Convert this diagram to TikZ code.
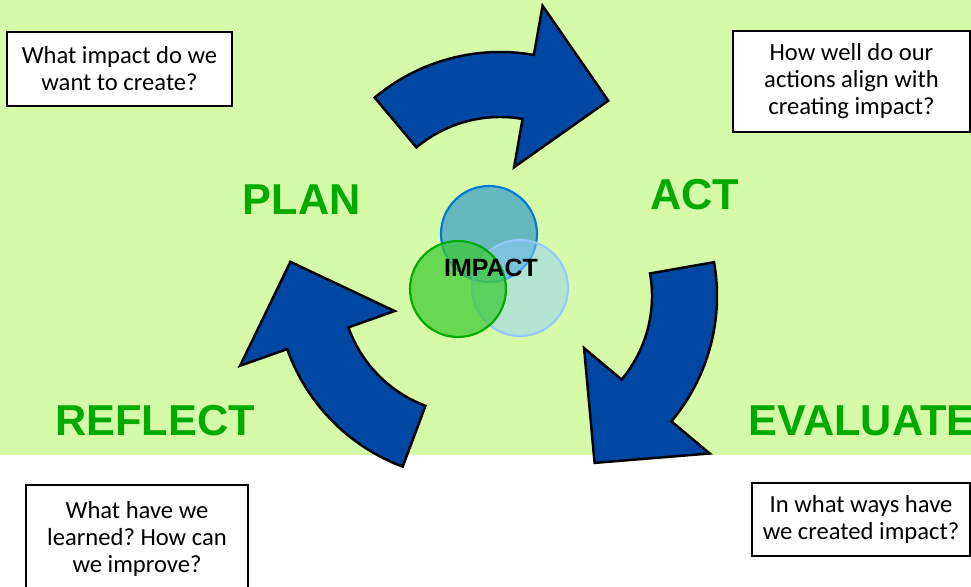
\documentclass[tikz,border=0pt]{standalone}
\usepackage{fontspec}
\setmainfont{Carlito}
\newfontfamily\labelfont{Liberation Sans}
\frenchspacing
\definecolor{meadow}{RGB}{213,251,169}
\definecolor{loopblue}{RGB}{0,71,163}
\definecolor{stagegreen}{RGB}{0,170,0}
\definecolor{tealfill}{RGB}{54,157,199}
\definecolor{tealline}{RGB}{0,120,215}
\definecolor{leaffill}{RGB}{59,200,49}
\definecolor{mistfill}{RGB}{147,206,252}
\definecolor{mistline}{RGB}{150,200,255}
\begin{document}
\begin{tikzpicture}[x=0.2mm,y=0.2mm,
  question/.style={draw=black,line width=1.2pt,fill=white,align=center,inner sep=0pt,
    font=\fontsize{14}{15.4}\selectfont},
  stage/.style={text=stagegreen,font=\labelfont\bfseries\fontsize{24.6}{28}\selectfont},
  turn/.style={fill=loopblue,draw=black,line width=1.4pt,line join=miter}]
\useasboundingbox (0,0) rectangle (971,586);
\fill[white] (0,0) rectangle (971,586);
\fill[meadow] (0,131) rectangle (971,586);
\node[question,minimum width=45mm,minimum height=14.8mm] (plan q) at (119.5,517) {What impact do we\\want to create?};
\node[question,minimum width=47.4mm,minimum height=20.2mm] (act q) at (851.5,504.5) {How well do our\\actions align with\\creating impact?};
\node[question,minimum width=44.4mm,minimum height=21.4mm] (reflect q) at (137,47.5) {What have we\\learned? How can\\we improve?};
\node[question,minimum width=43.6mm,minimum height=14.6mm] (evaluate q) at (861,66.5) {In what ways have\\we created impact?};
\foreach \cx/\cy/\s in {500/339/130,522/290/10,471/302/249.5}{
  \begin{scope}[shift={(\cx,\cy)}]
  \draw[turn] (\s:195) arc[start angle=\s,end angle=\s-50,radius=195] -- (\s-50:245) -- (\s-76.5:182)
    -- (\s-50:81) -- (\s-50:130) arc[start angle=\s-50,end angle=\s,radius=130] -- cycle;
  \end{scope}
}
\filldraw[fill=tealfill,fill opacity=0.7,draw=tealline,line width=1.2pt] (489,352) circle[radius=48];
\filldraw[fill=mistfill,fill opacity=0.5,draw=mistline,line width=1.2pt] (520,298) circle[radius=48];
\filldraw[fill=leaffill,fill opacity=0.7,draw=stagegreen,line width=1.2pt] (458,297) circle[radius=48];
\node[font=\labelfont\bfseries\fontsize{14.2}{16}\selectfont] (impact) at (491,318) {IMPACT};
\node[stage] (plan) at (301.7,386) {PLAN};
\node[stage] (act) at (694.5,391) {ACT};
\node[stage] (reflect) at (155,165) {REFLECT};
\node[stage] (evaluate) at (862,165) {EVALUATE};
\end{tikzpicture}
\end{document}
